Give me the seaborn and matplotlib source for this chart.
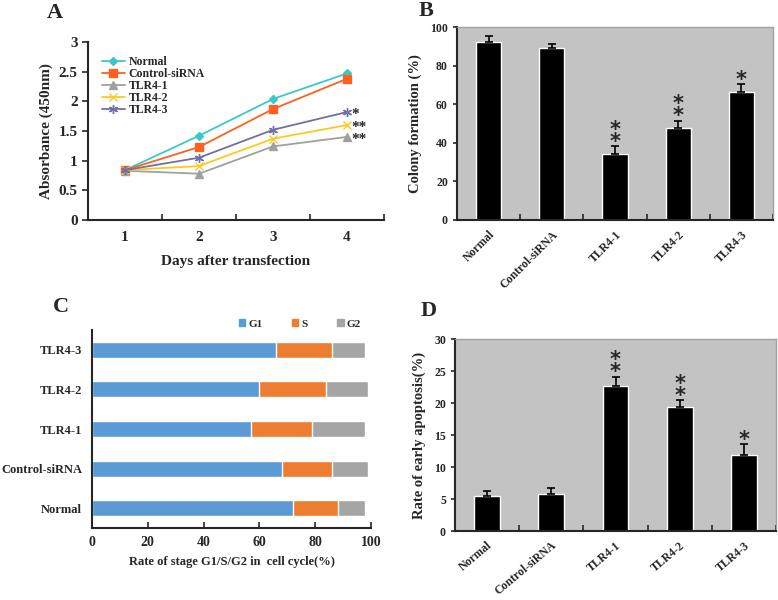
import numpy as np
import pandas as pd
import seaborn as sns
import matplotlib.pyplot as plt
from matplotlib.patches import Patch
from matplotlib.ticker import FixedLocator

# panel A: absorbance (450nm) over days
days = [1, 2, 3, 4]
abs_normal = [0.84, 1.42, 2.04, 2.47]
abs_control = [0.84, 1.23, 1.87, 2.38]
abs_tlr1 = [0.83, 0.78, 1.24, 1.40]
abs_tlr2 = [0.84, 0.91, 1.37, 1.60]
abs_tlr3 = [0.84, 1.05, 1.52, 1.82]
line_stars = ['', '', '**', '**', '*']

groups = ['Normal', 'Control-siRNA', 'TLR4-1', 'TLR4-2', 'TLR4-3']

# panel B: colony formation (%)
colony = [92.4, 89.0, 34.4, 47.9, 66.3]
colony_err = [3.0, 2.2, 3.7, 3.5, 4.1]
colony_stars = ['', '', '*\n*', '*\n*', '*']

# panel C: cell cycle (%)
g1 = [72, 68, 57, 60, 66]
s_phase = [16, 18, 22, 24, 20]
g2 = [10, 13, 19, 15, 12]

# panel D: early apoptosis (%)
apoptosis = [5.4, 5.8, 22.7, 19.3, 11.8]
apoptosis_err = [0.9, 0.9, 1.4, 1.1, 1.8]
apoptosis_stars = ['', '', '*\n*', '*\n*', '*']

sns.set_style('ticks')
plt.rcParams['font.family'] = ['Liberation Serif', 'DejaVu Serif']
plt.rcParams['font.weight'] = 'bold'
plt.rcParams['axes.labelweight'] = 'bold'
plt.rcParams['axes.linewidth'] = 1.5

fig = plt.figure(figsize=(7.78, 6.0), dpi=100)
W, H = 778, 600


def add_ax(left, top, right, bottom):
    return fig.add_axes([left / W, 1 - bottom / H, (right - left) / W, (bottom - top) / H])


# ---------- A ----------
ax = add_ax(88, 42, 384, 220)
df_a = pd.DataFrame({
    'day': days * 5,
    'value': abs_normal + abs_control + abs_tlr1 + abs_tlr2 + abs_tlr3,
    'group': np.repeat(groups, len(days)),
})
pal_a = ['#3CC8C8', '#FF6020', '#A0A0A0', '#FFC820', '#7070A8']
markers_a = ['D', 's', '^', 'x', (6, 2, 0)]
sizes_a = [4.5, 5.5, 5.5, 6, 6.5]
sns.lineplot(data=df_a, x='day', y='value', hue='group', hue_order=groups,
             palette=pal_a, errorbar=None, legend=False, linewidth=1.3, ax=ax)
for ln, mk, ms in zip(ax.lines, markers_a, sizes_a):
    ln.set_marker(mk)
    ln.set_markersize(ms)
    ln.set_markerfacecolor(ln.get_color())
    ln.set_markeredgecolor(ln.get_color())
    ln.set_markeredgewidth(1.0)
ax.legend(ax.lines, groups, loc='upper left', bbox_to_anchor=(0.03, 0.95),
          frameon=False, fontsize=8.5, labelspacing=0.0, handlelength=2.0,
          handleheight=0.6, handletextpad=0.3, borderaxespad=0)
last_vals = [abs_normal[-1], abs_control[-1], abs_tlr1[-1], abs_tlr2[-1], abs_tlr3[-1]]
for st, v in zip(line_stars, last_vals):
    if st:
        ax.annotate(st, (days[-1], v), xytext=(3, -2), textcoords='offset points',
                    va='center', ha='left', fontsize=11)
ax.set_xlim(0.5, 4.5)
ax.set_ylim(0, 3)
ax.set_xticks(days)
ax.xaxis.set_minor_locator(FixedLocator([1.5, 2.5, 3.5, 4.5]))
ax.set_yticks([0, 0.5, 1, 1.5, 2, 2.5, 3])
ax.set_yticklabels(['0', '0.5', '1', '1.5', '2', '2.5', '3'])
ax.tick_params(axis='x', which='major', length=0, labelsize=11, pad=8)
ax.tick_params(axis='x', which='minor', direction='in', length=4, width=1.2)
ax.tick_params(axis='y', direction='out', length=4, width=1.2, labelsize=11)
ax.set_xlabel('Days after transfection', fontsize=11, labelpad=8)
ax.set_ylabel('Absorbance (450nm)', fontsize=11, labelpad=4)
sns.despine(ax=ax)
fig.text(55 / W, 1 - 13 / H, 'A', fontsize=16, fontweight='bold', ha='center', va='center')


def bar_panel(ax, values, errs, stars, ymax, yticks, ylabel, rot):
    ax.set_facecolor('#C3C3C3')
    sns.barplot(x=groups, y=values, color='black', saturation=1, width=0.4, ax=ax)
    pos = np.arange(len(groups))
    ax.errorbar(pos, values, yerr=[np.zeros(len(values)), errs], fmt='none',
                ecolor='black', elinewidth=1.2, capsize=3, capthick=1.2)
    for i, st in enumerate(stars):
        if st:
            ax.annotate(st, (pos[i], values[i] + errs[i]), xytext=(0, -4),
                        textcoords='offset points', ha='center', va='bottom',
                        fontsize=15, linespacing=0.5, fontfamily='DejaVu Sans',
                        fontweight='bold')
    ax.set_xlim(-0.5, 4.5)
    ax.set_ylim(0, ymax)
    ax.set_yticks(yticks)
    ax.xaxis.set_minor_locator(FixedLocator([0.5, 1.5, 2.5, 3.5, 4.5]))
    ax.tick_params(axis='x', which='major', length=0, labelsize=8.5, pad=6)
    ax.tick_params(axis='x', which='minor', direction='in', length=4, width=1.2)
    ax.tick_params(axis='y', direction='out', length=3, width=1.2, labelsize=8.5)
    plt.setp(ax.get_xticklabels(), rotation=rot, ha='right', rotation_mode='anchor')
    ax.set_xlabel('')
    ax.set_ylabel(ylabel, fontsize=10.5, labelpad=6)
    for side in ('top', 'right'):
        ax.spines[side].set_color('#A0A0A0')
        ax.spines[side].set_linewidth(1.0)


# ---------- B ----------
ax = add_ax(457, 27, 773, 220)
bar_panel(ax, colony, colony_err, colony_stars, 100, [0, 20, 40, 60, 80, 100],
          'Colony formation (%)', 45)
fig.text(426 / W, 1 - 11 / H, 'B', fontsize=16, fontweight='bold', ha='center', va='center')

# ---------- D ----------
ax = add_ax(455, 339, 776, 531)
bar_panel(ax, apoptosis, apoptosis_err, apoptosis_stars, 30, [0, 5, 10, 15, 20, 25, 30],
          'Rate of early apoptosis(%)', 40)
fig.text(429 / W, 1 - 311 / H, 'D', fontsize=16, fontweight='bold', ha='center', va='center')

# ---------- C ----------
ax = add_ax(92, 330, 371, 528)
order = groups[::-1]
g1_r = g1[::-1]
gs_r = [a + b for a, b in zip(g1, s_phase)][::-1]
tot_r = [a + b + c for a, b, c in zip(g1, s_phase, g2)][::-1]
c_g1, c_s, c_g2 = '#5B9BD5', '#ED7D31', '#A5A5A5'
sns.barplot(x=tot_r, y=order, orient='h', color=c_g2, saturation=1, width=0.4, ax=ax)
sns.barplot(x=gs_r, y=order, orient='h', color=c_s, saturation=1, width=0.4, ax=ax)
sns.barplot(x=g1_r, y=order, orient='h', color=c_g1, saturation=1, width=0.4, ax=ax)
ax.set_xlim(0, 100)
ax.set_ylim(4.5, -0.5)
ax.set_xticks([0, 20, 40, 60, 80, 100])
ax.tick_params(axis='x', direction='in', length=4, width=1.2, labelsize=10, pad=6)
ax.tick_params(axis='y', length=0, labelsize=9, pad=7)
ax.set_xlabel('Rate of stage G1/S/G2 in  cell cycle(%)', fontsize=9, labelpad=5)
ax.set_ylabel('')
sns.despine(ax=ax)
handles = [Patch(color=c_g1), Patch(color=c_s), Patch(color=c_g2)]
fig.legend(handles, ['G1', 'S', 'G2'], loc='center', bbox_to_anchor=(300 / W, 1 - 324 / H),
           ncol=3, frameon=False, fontsize=8, handlelength=0.6, handleheight=0.6,
           handletextpad=0.3, columnspacing=2.6)
fig.text(61 / W, 1 - 307 / H, 'C', fontsize=16, fontweight='bold', ha='center', va='center')

fig.savefig('out.png', dpi=100)
